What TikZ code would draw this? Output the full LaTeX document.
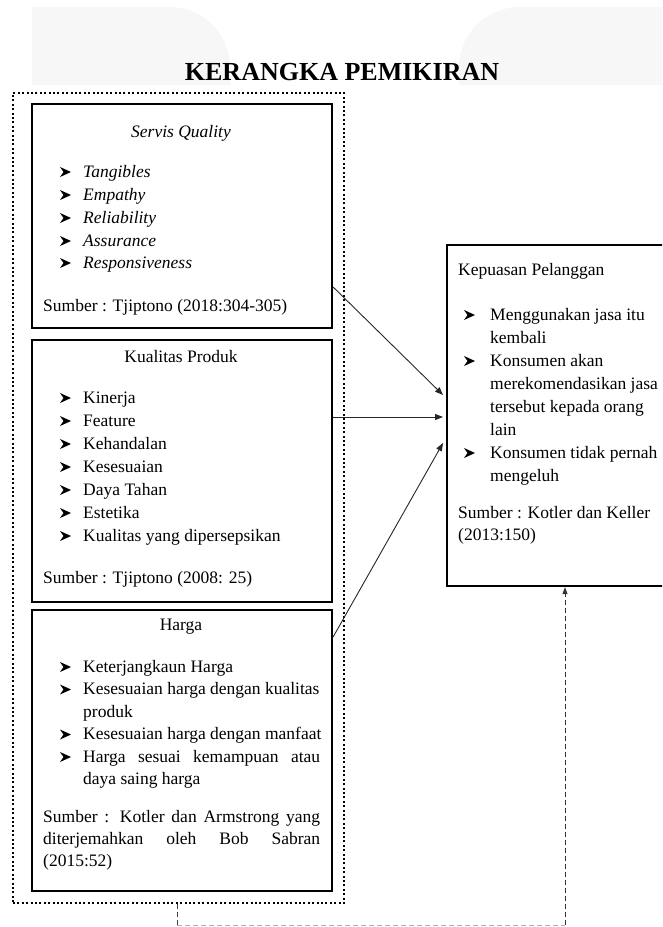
\documentclass[tikz,border=0pt]{standalone}
\usepackage{fontspec}
\setmainfont{Liberation Serif}
\usetikzlibrary{arrows.meta}
\begin{document}
\begin{tikzpicture}[x=1pt,y=-1pt,
  box/.style={draw, line width=2.2pt, inner sep=0pt},
  txt/.style={anchor=base west, inner sep=0pt, font=\fontsize{17.5}{20}\selectfont},
  ctr/.style={anchor=base, inner sep=0pt, font=\fontsize{17.5}{20}\selectfont},
  arrowbul/.pic={\fill[black] (0,-10) -- (11,-5) -- (0,0) -- (3.5,-5) -- cycle;},
  arr/.style={-{Triangle[length=8pt,width=6pt]}, line width=0.9pt, draw=black!85},
  dotbox/.style={draw, line width=2.2pt, dash pattern=on 2pt off 2.4pt},
  dsh/.style={line width=0.9pt, dash pattern=on 5pt off 3pt}]
\useasboundingbox (0,0) rectangle (662,927);
\clip (0,0) rectangle (662,927);
% watermark shapes
\fill[black!3] (32,85) -- (32,7) -- (170,7) to[out=0,in=90] (230,67) -- (230,85) -- cycle;
\fill[black!3] (662,85) -- (662,7) -- (520,7) to[out=180,in=90] (459,67) -- (459,85) -- cycle;
% title
\node[anchor=base, inner sep=0pt, font=\bfseries\fontsize{26}{30}\selectfont] (title) at (342,80) {KERANGKA PEMIKIRAN};
% outer dotted frame
\node[dotbox, minimum width=331pt, minimum height=810pt] (frame) at (178.5,498) {};
% boxes
\node[box, minimum width=300pt, minimum height=224pt] (b1) at (182,216) {};
\node[box, minimum width=300pt, minimum height=262pt] (b2) at (182,471) {};
\node[box, minimum width=300pt, minimum height=281pt] (b3) at (182,750.5) {};
\node[box, minimum width=225pt, minimum height=341pt] (kep) at (559.5,415.5) {};
% box 1 text
\node[ctr, font=\itshape\fontsize{17.5}{20}\selectfont] (t1) at (181,137) {Servis Quality};
\foreach \y/\w [count=\i] in {177/Tangibles,200/Empathy,223/Reliability,246/Assurance,268/Responsiveness}{
  \pic at (60,\y) {arrowbul};
  \node[txt, font=\itshape\fontsize{17.5}{20}\selectfont] (b1t\i) at (83,\y) {\w};
}
\node[txt] (s1) at (43,311) {Sumber : Tjiptono (2018:304-305)};
% box 2 text
\node[ctr] (t2) at (181,362) {Kualitas Produk};
\foreach \y/\w [count=\i] in {403/Kinerja,426/Feature,449/Kehandalan,472/Kesesuaian,495/Daya Tahan,518/Estetika,541/Kualitas yang dipersepsikan}{
  \pic at (60,\y) {arrowbul};
  \node[txt] (b2t\i) at (83,\y) {\w};
}
\node[txt] (s2) at (43,583) {Sumber : Tjiptono (2008: 25)};
% box 3 text
\node[ctr] (t3) at (181,630) {Harga};
\foreach \y in {672,694.5,739.5,762}{\pic at (60,\y) {arrowbul};}
\node[txt] (b3t1) at (83,672) {Keterjangkaun Harga};
\node[txt] (b3t2) at (83,694.5) {Kesesuaian harga dengan kualitas};
\node[txt] (b3t2b) at (83,717) {produk};
\node[txt] (b3t3) at (83,739.5) {Kesesuaian harga dengan manfaat};
\node[txt] (b3t4) at (83,762) {\makebox[237pt][s]{Harga sesuai kemampuan atau}};
\node[txt] (b3t4b) at (83,784.5) {daya saing harga};
\node[txt] (s3a) at (43,822) {\makebox[277pt][s]{Sumber : Kotler dan Armstrong yang}};
\node[txt] (s3b) at (43,844) {\makebox[277pt][s]{diterjemahkan oleh Bob Sabran}};
\node[txt] (s3c) at (43,866) {(2015:52)};
% Kepuasan text
\node[txt] (t4) at (458,275) {Kepuasan Pelanggan};
\foreach \y in {320,366,458}{\pic at (464,\y) {arrowbul};}
\node[txt] (kt1) at (490,320) {Menggunakan jasa itu};
\node[txt] (kt1b) at (490,343) {kembali};
\node[txt] (kt2) at (490,366) {Konsumen akan};
\node[txt] (kt2b) at (490,389) {merekomendasikan jasa};
\node[txt] (kt2c) at (490,412) {tersebut kepada orang};
\node[txt] (kt2d) at (490,435) {lain};
\node[txt] (kt3) at (490,458) {Konsumen tidak pernah};
\node[txt] (kt3b) at (490,481) {mengeluh};
\node[txt] (s4a) at (458,518) {Sumber : Kotler dan Keller};
\node[txt] (s4b) at (458,540) {(2013:150)};
% arrows
\draw[arr] (b1.east |- 0,287) -- (443,395);
\draw[arr] (b2.east |- 0,417) -- (443,417);
\draw[arr] (b3.east |- 0,637) -- (443,443);
% dashed feedback connector
\coordinate (c1) at (frame.south -| 177,0);
\coordinate (c2) at (177,925);
\coordinate (c3) at (565,925);
\draw[dsh, draw=black!75] (c1) -- (c2);
\draw[dsh, draw=black!30] (c2) -- (c3);
\draw[dsh, draw=black!80, -{Triangle[length=7pt,width=5pt]}] (c3) -- (kep.south -| c3) ;
\end{tikzpicture}
\end{document}
